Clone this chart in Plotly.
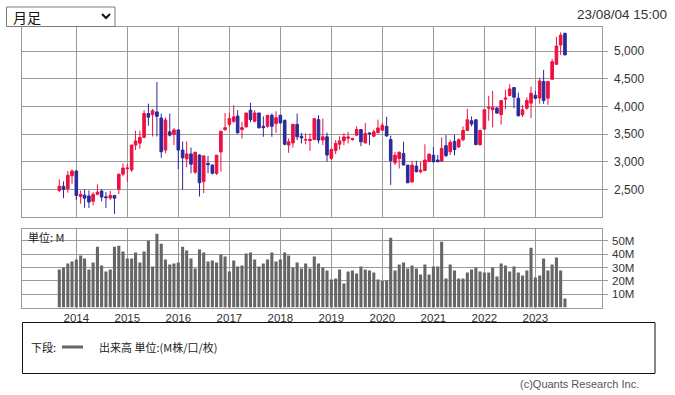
import pandas as pd
import plotly.graph_objects as go

# ---- data (monthly, Sep 2013 .. Aug 2023) ----
start_month = "2013-09-01"
n_months = 120
months = pd.date_range(start_month, periods=n_months, freq="MS")

open_ = [
    2480, 2555, 2510, 2745,
    2830, 2370, 2395, 2380, 2285, 2410, 2470, 2365, 2345, 2390, 2500, 2775,
    2875, 2850, 3300, 3335, 3440, 3870, 3850, 3900, 3790, 3210, 3540, 3495,
    3575, 3210, 3050, 3140, 2810, 3120, 2640, 2970, 2940, 2790, 3175, 3580,
    3675, 3730, 3825, 3580, 3630, 3930, 3730, 3880, 3640, 3640, 3840, 3690,
    3840, 3750, 3300, 3340, 3675, 3460, 3390, 3380, 3400, 3760, 3390, 3450,
    3060, 3200, 3316, 3376, 3425, 3400, 3480, 3580, 3340, 3520, 3460, 3525,
    3570, 3640, 3400, 2980, 3058, 3150, 2938, 2632, 2920, 2818, 2840, 3000,
    3118, 3030, 3010, 3290, 3180, 3368, 3266, 3398, 3566, 3740, 3758, 3308,
    3590, 3968, 3938, 3968, 3850, 4130, 4196, 4340, 4148, 3848, 3968, 4058,
    4200, 4150, 4448, 4148, 4490, 4760, 5108, 5318,
]
high = [
    2680, 2645, 2830, 2860,
    2850, 2480, 2500, 2480, 2450, 2590, 2495, 2450, 2470, 2395, 2780, 2970,
    2955, 3305, 3560, 3560, 3930, 4050, 3955, 4440, 3870, 3800, 3870, 3605,
    3580, 3365, 3365, 3255, 3180, 3135, 3110, 3105, 2945, 3120, 3555, 3880,
    3880, 4020, 3930, 3720, 3885, 4065, 3930, 3885, 3820, 3840, 3870, 3910,
    3845, 3755, 3420, 3680, 3870, 3520, 3510, 3510, 3780, 3840, 3780, 3525,
    3240, 3390, 3460, 3520, 3540, 3430, 3640, 3590, 3700, 3530, 3580, 3760,
    3700, 3810, 3470, 3180, 3180, 3360, 2940, 3016, 3016, 2998, 3315, 3148,
    3268, 3120, 3440, 3480, 3400, 3488, 3420, 3638, 3956, 3818, 3760, 3570,
    3940, 4190, 4280, 3990, 4110, 4300, 4400, 4345, 4250, 4028, 4163, 4358,
    4280, 4520, 4658, 4450, 4856, 5258, 5336, 5336,
]
low = [
    2450, 2340, 2440, 2600,
    2310, 2240, 2165, 2165, 2210, 2390, 2285, 2165, 2310, 2055, 2415, 2735,
    2635, 2815, 3210, 3235, 3425, 3650, 3455, 3455, 3070, 3150, 3455, 3300,
    2865, 2495, 2900, 2790, 2780, 2370, 2430, 2790, 2770, 2760, 2820, 3555,
    3630, 3700, 3515, 3420, 3615, 3715, 3715, 3595, 3450, 3615, 3450, 3520,
    3690, 3295, 3160, 3255, 3390, 3330, 3315, 3195, 3395, 3330, 3300, 3000,
    3030, 3135, 3220, 3298, 3330, 3380, 3460, 3280, 3330, 3300, 3445, 3510,
    3555, 3450, 2580, 2940, 2878, 2935, 2610, 2625, 2810, 2788, 2830, 2998,
    2990, 2990, 3000, 3080, 3120, 3116, 3250, 3368, 3560, 3638, 3300, 3290,
    3578, 3740, 3620, 3870, 3670, 3950, 4178, 3968, 3818, 3806, 3938, 3788,
    4130, 4050, 4046, 4028, 4478, 4748, 4930, 4928,
]
close = [
    2555, 2500, 2755, 2830,
    2390, 2410, 2340, 2270, 2410, 2450, 2360, 2350, 2390, 2340, 2775, 2885,
    2885, 3300, 3375, 3440, 3870, 3805, 3920, 3820, 3180, 3755, 3480, 3575,
    3210, 3070, 3140, 2955, 3170, 2620, 3105, 2945, 2790, 3118, 3550, 3615,
    3780, 3810, 3520, 3615, 3880, 3760, 3880, 3615, 3615, 3838, 3640, 3795,
    3700, 3315, 3360, 3675, 3450, 3430, 3400, 3405, 3778, 3390, 3450, 3120,
    3220, 3330, 3376, 3448, 3445, 3420, 3580, 3360, 3510, 3505, 3540, 3610,
    3658, 3466, 3016, 3118, 3172, 2940, 2620, 2938, 2818, 2848, 3030, 3136,
    2998, 3000, 3240, 3110, 3350, 3218, 3398, 3566, 3758, 3680, 3308, 3566,
    3938, 3980, 3980, 3878, 4105, 4150, 4316, 4166, 3830, 3938, 4106, 4238,
    4145, 4460, 4106, 4448, 4808, 5090, 5288, 4930,
]
volume_m = [
    28.5, 30, 33, 34.5,
    36, 39, 36.75, 28.5, 33.75, 45.75, 31.5, 27, 28.5, 45.75, 46.5, 42,
    36.75, 36.75, 41.25, 33.75, 42, 50.25, 30.75, 55.5, 48, 36, 32.25, 33,
    33.75, 45.75, 42.75, 36.75, 29.25, 43.5, 41.25, 34.5, 35.25, 33.75, 39.75, 38.25,
    27, 35.25, 30.75, 31.5, 40.5, 41.25, 36, 30.75, 33, 36, 41.25, 34.5,
    36, 41.25, 39, 30, 33.75, 29.25, 33, 29.25, 38.25, 33, 30, 27.75,
    21, 21.75, 28.5, 18, 27, 27.75, 25.5, 30.75, 28.5, 27.75, 26.25, 21,
    20, 20.25, 52.5, 27.75, 32.25, 33.75, 29.25, 31.5, 29.25, 24.75, 32.25, 24.75,
    30.75, 30.75, 49.5, 21.75, 32.25, 27.75, 21.75, 21.75, 26.25, 28.5, 30, 27,
    26.25, 26.25, 30, 23.25, 33, 31.5, 27, 30.75, 26.25, 24, 27.75, 45,
    22.5, 24, 36.75, 27.75, 32.25, 37.5, 27.75, 6.75,
]

price_ticks = [2500, 3000, 3500, 4000, 4500, 5000]
volume_ticks = [10, 20, 30, 40, 50]
volume_tick_labels = ["10M", "20M", "30M", "40M", "50M"]
year_ticks = ["2014-01-01", "2015-01-01", "2016-01-01", "2017-01-01", "2018-01-01",
              "2019-01-01", "2020-01-01", "2021-01-01", "2022-01-01", "2023-01-01"]
year_labels = ["2014", "2015", "2016", "2017", "2018", "2019", "2020", "2021", "2022", "2023"]

# ---- styling ----
W, H = 675, 395
UP = "#ee1040"
DOWN = "#2b2a9a"
GRID = "#9a9a9a"
NUM_FONT = "Liberation Sans, Arial, sans-serif"
JP_FONT = "Noto Sans CJK JP, sans-serif"


def px(x):
    return x / W


def py(y):
    return 1 - y / H


x_left, x_right = 22.3, 601.7
price_top, price_bot = 27, 217
vol_top, vol_bot = 229, 307.5

fig = go.Figure()

fig.add_trace(go.Candlestick(
    x=months, open=open_, high=high, low=low, close=close,
    increasing=dict(line=dict(color=UP, width=1), fillcolor=UP),
    decreasing=dict(line=dict(color=DOWN, width=1), fillcolor=DOWN),
    whiskerwidth=0, xaxis="x", yaxis="y", hoverinfo="skip", showlegend=False,
))

fig.add_trace(go.Bar(
    x=months, y=volume_m, marker=dict(color="#666666", line=dict(width=0)),
    width=22 * 86400000, xaxis="x2", yaxis="y2", hoverinfo="skip", showlegend=False,
))

xrange = ["2012-12-10", "2024-04-20"]
common_x = dict(
    type="date", range=xrange, showgrid=True, gridcolor=GRID, gridwidth=1,
    tickvals=year_ticks, showline=True, mirror=True, linecolor=GRID, linewidth=1,
    zeroline=False, automargin=False, fixedrange=True,
)

fig.update_layout(
    width=W, height=H, autosize=False,
    margin=dict(l=0, r=0, t=0, b=0),
    paper_bgcolor="white", plot_bgcolor="white",
    boxgap=0.05,
    xaxis=dict(domain=[px(x_left), px(x_right)], anchor="y", showticklabels=False,
               rangeslider=dict(visible=False), ticks="", **common_x),
    yaxis=dict(domain=[py(price_bot), py(price_top)], range=[2000, 5435], side="right",
               tickvals=price_ticks, tickformat=",.0f", showgrid=True, gridcolor=GRID,
               showline=True, mirror=True, linecolor=GRID, zeroline=False,
               ticks="outside", ticklen=5, tickcolor=GRID, ticklabelstandoff=4,
               tickfont=dict(family=NUM_FONT, size=12, color="#333333"),
               automargin=False, fixedrange=True),
    xaxis2=dict(domain=[px(x_left), px(x_right)], anchor="y2", matches="x",
                ticktext=year_labels, showticklabels=True, ticks="",
                tickfont=dict(family=NUM_FONT, size=11.5, color="#333333"), **common_x),
    yaxis2=dict(domain=[py(vol_bot), py(vol_top)], range=[0, 59], side="right",
                tickvals=volume_ticks, ticktext=volume_tick_labels, showgrid=True, gridcolor=GRID,
                showline=True, mirror=True, linecolor=GRID, zeroline=False,
                ticks="outside", ticklen=5, tickcolor=GRID, ticklabelstandoff=2,
                tickfont=dict(family=NUM_FONT, size=11.5, color="#333333"),
                automargin=False, fixedrange=True),
)

shapes = [
    # period selector box
    dict(type="rect", xref="paper", yref="paper", x0=px(6.5), x1=px(115), y0=py(26.5), y1=py(7),
         line=dict(color="#7a7a7a", width=1), fillcolor="white"),
    dict(type="path", xref="paper", yref="paper",
         path=f"M {px(102)} {py(14)} L {px(106)} {py(18)} L {px(110)} {py(14)}",
         line=dict(color="#111111", width=2)),
    # legend box
    dict(type="rect", xref="paper", yref="paper", x0=px(22.5), x1=px(655), y0=py(373.5), y1=py(322.5),
         line=dict(color="#111111", width=1), fillcolor="rgba(0,0,0,0)"),
    dict(type="line", xref="paper", yref="paper", x0=px(62), x1=px(83), y0=py(347), y1=py(347),
         line=dict(color="#666666", width=3)),
]
fig.update_layout(shapes=shapes)

annotations = [
    dict(text="月足", x=px(11), y=py(17), xanchor="left", yanchor="middle",
         font=dict(family=JP_FONT, size=14, color="#111111")),
    dict(text="23/08/04 15:00", x=px(669), y=py(15), xanchor="right", yanchor="middle",
         font=dict(family=NUM_FONT, size=13.5, color="#333333")),
    dict(text="単位: M", x=px(26), y=py(236.5), xanchor="left", yanchor="middle",
         font=dict(family=JP_FONT, size=11, color="#222222")),
    dict(text="下段:", x=px(29), y=py(347), xanchor="left", yanchor="middle",
         font=dict(family=JP_FONT, size=11, color="#222222")),
    dict(text="出来高 単位:(M株/口/枚)", x=px(97), y=py(347), xanchor="left", yanchor="middle",
         font=dict(family=JP_FONT, size=11, color="#222222")),
    dict(text="(c)Quants Research Inc.", x=px(518), y=py(384), xanchor="left", yanchor="middle",
         font=dict(family=NUM_FONT, size=11, color="#555555")),
]
for a in annotations:
    a.update(xref="paper", yref="paper", showarrow=False)
fig.update_layout(annotations=annotations)

fig.write_html("out.html", config={"displayModeBar": False},
               post_script="document.body.style.margin='0';document.body.style.padding='0';")
